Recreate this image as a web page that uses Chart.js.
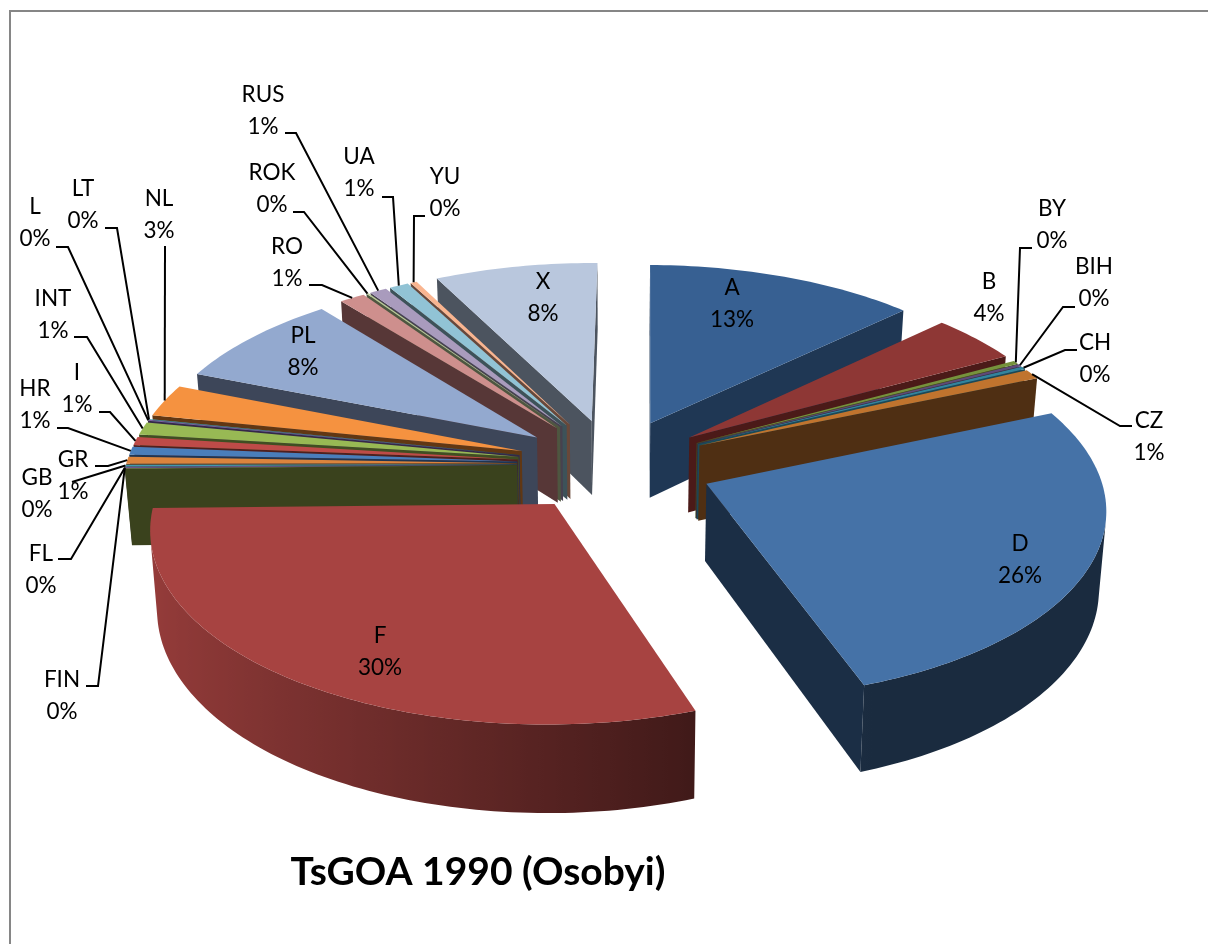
<!DOCTYPE html>
<html>
<head>
<meta charset="utf-8">
<title>TsGOA 1990 (Osobyi)</title>
<script src="https://cdn.jsdelivr.net/npm/chart.js@4/dist/chart.umd.min.js"></script>
<style>
    html, body { margin: 0; padding: 0; background: #fff; overflow: hidden; }
    #frame { position: absolute; left: 9px; top: 10px; width: 1400px; height: 1200px; border: 2px solid #868686; }
    #stage { position: absolute; left: 0; top: 0; width: 1208px; height: 944px; overflow: hidden; }
    canvas { position: absolute; left: 0; top: 0; }
</style>
</head>
<body>
<div id="stage">
    <div id="frame"></div>
    <canvas id="pieChart" width="1208" height="944"></canvas>
</div>
<script>
// values, the labels only show them rounded
const categories = ["A", "B", "BY", "BIH", "CH", "CZ", "D", "F", "FIN", "FL", "GB", "GR", "HR", "I", "INT", "L", "LT", "NL", "PL", "RO", "ROK", "RUS", "UA", "YU", "X"];
const shares = [12.7, 4.2, 0.3, 0.2, 0.25, 0.85, 26.0, 30.0, 0.05, 0.1, 0.15, 0.6, 0.7, 0.7, 1.1, 0.1, 0.05, 2.8, 8.2, 1.2, 0.1, 0.8, 0.9, 0.3, 7.65];

const topColors = ["#376092", "#8E3735", "#76923C", "#5F497A", "#31859C", "#C0742E", "#4572A7", "#A74341", "#89A54E", "#71588F", "#4198AF", "#DB843D", "#4A7EBB", "#BE4B48", "#98B954", "#7D60A0", "#46AAC4", "#F59240", "#93A9CF", "#CE8F8D", "#B9CD96", "#A99BBD", "#91C3D5", "#F9B590", "#B9C7DD"];
const sideColors = ["#1F3754", "#4B1A18", "#3F4F1F", "#33274A", "#1A4A57", "#4F2F13", "#1B2E45", "#AA4643", "#3A421D", "#372B47", "#1E4753", "#5C3615", "#1F3552", "#4F1F1E", "#404E22", "#352848", "#1F4953", "#613713", "#3D4659", "#573737", "#4E5640", "#47414F", "#3D5259", "#68483A", "#4C545F"];

// how far each slice is pulled out, D and F a bit more than the rest
const explode = categories.map(name => name === "D" ? 101 : name === "F" ? 100 : 96);

// where each label text sits, with the elbow of its leader line if it has one
const labelSpots = {
    A: { x: 732, y: 286 }, B: { x: 989, y: 280 }, D: { x: 1020, y: 542 }, F: { x: 380, y: 634 }, PL: { x: 303, y: 334 }, X: { x: 543, y: 280 },
    BY: { x: 1052, y: 207, lead: [[1032, 248], [1020, 248]] },
    BIH: { x: 1094, y: 265, lead: [[1075, 307], [1063, 307]] },
    CH: { x: 1095, y: 341, lead: [[1077, 350], [1065, 350]] },
    CZ: { x: 1149, y: 419, lead: [[1132, 426], [1120, 426]] },
    FIN: { x: 62, y: 678, lead: [[86, 686], [98, 686]] },
    FL: { x: 41, y: 552, lead: [[58, 559], [71, 559]] },
    GB: { x: 37, y: 476, lead: [[72, 482]] },
    GR: { x: 73, y: 458, lead: [[95, 466], [108, 466]] },
    HR: { x: 35, y: 387, lead: [[57, 428], [68, 428]] },
    I: { x: 77, y: 371, lead: [[99, 412], [110, 412]] },
    INT: { x: 53, y: 297, lead: [[74, 337], [87, 337]] },
    L: { x: 35, y: 205, lead: [[56, 247], [68, 247]] },
    LT: { x: 83, y: 187, lead: [[105, 228], [117, 228]] },
    NL: { x: 159, y: 197, lead: [[165, 246]] },
    RO: { x: 287, y: 245, lead: [[309, 285], [322, 285]] },
    ROK: { x: 272, y: 171, lead: [[293, 212], [304, 212]] },
    RUS: { x: 263, y: 93, lead: [[285, 133], [296, 133]] },
    UA: { x: 359, y: 155, lead: [[382, 197], [393, 197]] },
    YU: { x: 445, y: 175, lead: [[425, 216], [414, 216]] }
};

// camera for the tilted pie
const viewX = 613, viewY = 464;
const tilt = 0.474;      // flattening of the circle
const nearGrow = 0.115;  // how much nearer parts get bigger
const wallDepth = 0.195; // height of the pie, part of the radius
const wallShrink = 0.985;

function project(gx, gz, r, lower) {
    const p = 1 / (1 - nearGrow * gz);
    let x = viewX + gx * r * p;
    let y = viewY + gz * r * tilt * p;
    if (lower) {
        x = viewX + (x - viewX) * wallShrink;
        y += wallDepth * r * p;
    }
    return [x, y];
}

function sliceGeometry(arc) {
    const r = arc.outerRadius;
    const mid = (arc.startAngle + arc.endAngle) / 2;
    const e = (arc.options.offset || 0) / r;
    const apex = [Math.cos(mid) * e, Math.sin(mid) * e];
    const rim = [];
    const steps = Math.max(2, Math.ceil((arc.endAngle - arc.startAngle) / 0.02));
    for (let i = 0; i <= steps; i++) {
        const a = arc.startAngle + (arc.endAngle - arc.startAngle) * i / steps;
        rim.push({ a: a, gx: apex[0] + Math.cos(a), gz: apex[1] + Math.sin(a) });
    }
    return { r, mid, apex, rim };
}

function facesViewer(p0, p1, p2) {
    return (p1[0] - p0[0]) * (p2[1] - p0[1]) - (p1[1] - p0[1]) * (p2[0] - p0[0]);
}

function fillPoly(ctx, pts, fill) {
    ctx.beginPath();
    pts.forEach((p, i) => i ? ctx.lineTo(p[0], p[1]) : ctx.moveTo(p[0], p[1]));
    ctx.closePath();
    ctx.fillStyle = fill;
    ctx.fill();
}

function hexShade(hex, k) {
    const n = parseInt(hex.slice(1), 16);
    return `rgb(${Math.round((n >> 16) * k)},${Math.round(((n >> 8) & 255) * k)},${Math.round((n & 255) * k)})`;
}

function drawWalls(ctx, arc, index) {
    const g = sliceGeometry(arc);
    const r = g.r;
    const A = project(g.apex[0], g.apex[1], r, false);
    const Al = project(g.apex[0], g.apex[1], r, true);
    const first = g.rim[0], last = g.rim[g.rim.length - 1];

    // the two flat cut faces
    const s = project(first.gx, first.gz, r, false), sl = project(first.gx, first.gz, r, true);
    const t = project(last.gx, last.gz, r, false), tl = project(last.gx, last.gz, r, true);
    if (facesViewer(A, s, Al) < 0) fillPoly(ctx, [A, s, sl, Al], sideColors[index]);
    if (facesViewer(A, t, Al) > 0) fillPoly(ctx, [A, t, tl, Al], sideColors[index]);

    // the curved outside, only the part turned to the viewer
    const seen = [];
    for (let i = 0; i < g.rim.length - 1; i++) {
        const a = project(g.rim[i].gx, g.rim[i].gz, r, false);
        const b = project(g.rim[i + 1].gx, g.rim[i + 1].gz, r, false);
        const al = project(g.rim[i].gx, g.rim[i].gz, r, true);
        if (facesViewer(a, b, al) < 0) {
            if (!seen.length) seen.push(g.rim[i]);
            seen.push(g.rim[i + 1]);
        }
    }
    if (seen.length < 2) return;
    const up = seen.map(q => project(q.gx, q.gz, r, false));
    const down = seen.map(q => project(q.gx, q.gz, r, true)).reverse();
    const xs = up.map(p => p[0]);
    const minX = Math.min(...xs), maxX = Math.max(...xs);
    const grad = ctx.createLinearGradient(minX, 0, Math.max(maxX, minX + 1), 0);
    const base = topColors[index];
    seen.forEach((q, i) => {
        const shade = Math.max(0.38, Math.min(0.9, 0.513 - 0.39 * Math.cos(q.a)));
        grad.addColorStop((up[i][0] - minX) / Math.max(maxX - minX, 1), hexShade(base, shade));
    });
    fillPoly(ctx, up.concat(down), grad);
}

const pie3d = {
    id: "pie3d",
    beforeDatasetsDraw(chart) {
        const ctx = chart.ctx;
        const arcs = chart.getDatasetMeta(0).data;
        const order = arcs.map((a, i) => i).sort((i, j) =>
            Math.sin((arcs[i].startAngle + arcs[i].endAngle) / 2) - Math.sin((arcs[j].startAngle + arcs[j].endAngle) / 2));
        order.forEach(i => drawWalls(ctx, arcs[i], i));
    },
    afterDatasetsDraw(chart) {
        const ctx = chart.ctx;
        const arcs = chart.getDatasetMeta(0).data;
        const total = shares.reduce((a, b) => a + b, 0);
        ctx.save();
        ctx.font = "22.5px Lato";
        ctx.textAlign = "center";
        ctx.textBaseline = "middle";
        categories.forEach((name, i) => {
            const spot = labelSpots[name];
            if (spot.lead) {
                const g = sliceGeometry(arcs[i]);
                const rimMid = project(g.apex[0] + Math.cos(g.mid), g.apex[1] + Math.sin(g.mid), g.r, false);
                ctx.beginPath();
                spot.lead.forEach((p, k) => k ? ctx.lineTo(p[0], p[1]) : ctx.moveTo(p[0], p[1]));
                ctx.lineTo(rimMid[0], rimMid[1]);
                ctx.strokeStyle = "#000";
                ctx.lineWidth = 2;
                ctx.stroke();
            }
            ctx.fillStyle = "#000";
            ctx.fillText(name, spot.x, spot.y + 1.5);
            ctx.fillText(Math.round(shares[i] / total * 100) + "%", spot.x, spot.y + 34);
        });
        ctx.restore();
    }
};

// arcs go through the pie controller, only their painting is swapped for the tilted one
Chart.ArcElement.prototype.draw = function (ctx) {
    const g = sliceGeometry(this);
    const pts = [project(g.apex[0], g.apex[1], g.r, false)].concat(g.rim.map(q => project(q.gx, q.gz, g.r, false)));
    fillPoly(ctx, pts, this.options.backgroundColor);
};

new Chart(document.getElementById("pieChart").getContext("2d"), {
    type: "pie",
    data: {
        labels: categories,
        datasets: [{
            data: shares,
            backgroundColor: topColors,
            borderWidth: 0,
            offset: explode
        }]
    },
    plugins: [pie3d],
    options: {
        responsive: false,
        animation: false,
        radius: 391,
        rotation: 0.6,
        layout: { padding: { left: 0, right: 252, top: 0, bottom: 48 } },
        plugins: {
            legend: { display: false },
            tooltip: { enabled: false },
            title: {
                display: true,
                position: "bottom",
                text: "TsGOA 1990 (Osobyi)",
                color: "#000",
                font: { family: "Lato", size: 39, weight: "bold" },
                padding: 0
            }
        }
    }
});
</script>
</body>
</html>
